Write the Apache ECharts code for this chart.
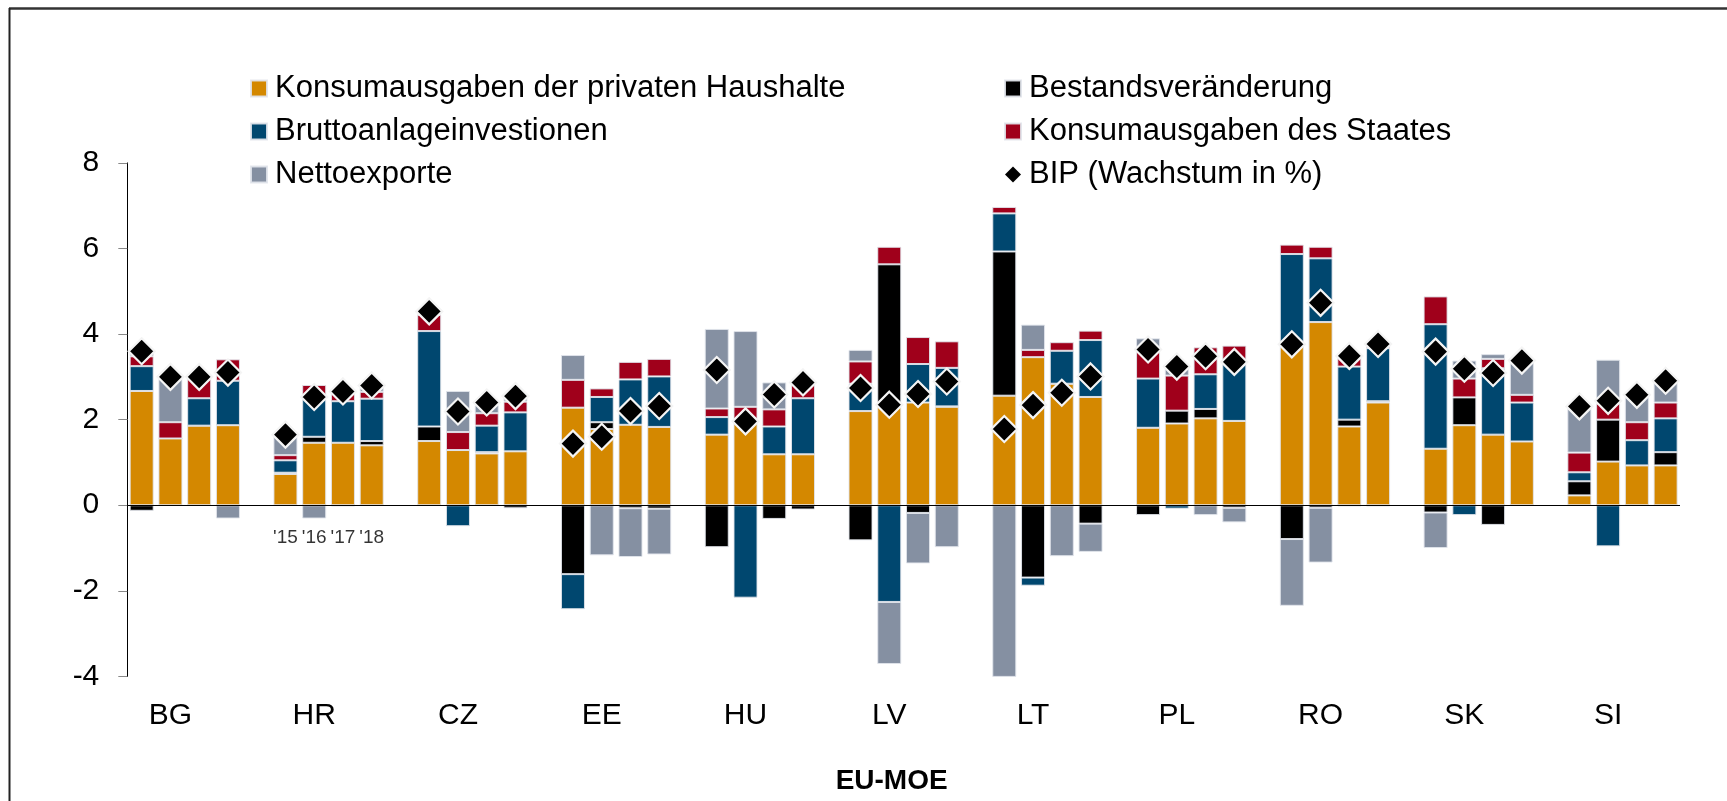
<!DOCTYPE html>
<html lang="de">
<head>
    <meta charset="UTF-8">
    <title>EU-MOE BIP-Beiträge</title>
    <style>
        html, body { margin: 0; padding: 0; background: #fff; }
        #main { width: 1727px; height: 801px; }
    </style>
</head>
<body>
<div id="main"></div>
<script src="https://cdn.jsdelivr.net/npm/echarts@6/dist/echarts.min.js"></script>
<script>
// Länder und Jahre
var countries = ['BG', 'HR', 'CZ', 'EE', 'HU', 'LV', 'LT', 'PL', 'RO', 'SK', 'SI'];
var years = ["'15", "'16", "'17", "'18"];

// Wachstumsbeiträge in Prozentpunkten, je Land 2015-2018
var privatKonsum = [
    2.67, 1.56, 1.86, 1.87,   // BG
    0.73, 1.46, 1.46, 1.40,   // HR
    1.50, 1.29, 1.21, 1.26,   // CZ
    2.28, 1.78, 1.88, 1.83,   // EE
    1.65, 1.92, 1.19, 1.19,   // HU
    2.20, 2.30, 2.40, 2.30,   // LV
    2.56, 3.46, 2.84, 2.53,   // LT
    1.81, 1.91, 2.03, 1.97,   // PL
    3.73, 4.28, 1.84, 2.40,   // RO
    1.32, 1.87, 1.65, 1.49,   // SK
    0.23, 1.02, 0.93, 0.93    // SI
];
var bestand = [
    -0.13, 0, 0, 0,
    0.03, 0.14, -0.03, 0.10,
    0.34, 0, 0.03, -0.07,
    -1.61, 0.16, -0.07, -0.08,
    -0.98, 0, -0.32, -0.10,
    -0.82, 3.33, -0.18, 0.01,
    3.37, -1.69, 0, -0.43,
    -0.23, 0.30, 0.22, -0.06,
    -0.79, -0.06, 0.16, 0.03,
    -0.17, 0.65, -0.46, 0,
    0.33, 0.98, 0, 0.31
];
var brutto = [
    0.58, 0, 0.64, 1.04,
    0.29, 0.89, 0.97, 0.99,
    2.23, -0.49, 0.62, 0.91,
    -0.82, 0.59, 1.06, 1.18,
    0.41, -2.16, 0.65, 1.31,
    0.64, -2.26, 0.90, 0.90,
    0.89, -0.19, 0.77, 1.33,
    1.15, -0.08, 0.81, 1.34,
    2.14, 1.49, 1.24, 1.24,
    2.91, -0.23, 1.55, 0.91,
    0.21, -0.96, 0.59, 0.79
];
var staat = [
    0.23, 0.38, 0.46, 0.50,
    0.12, 0.32, 0.17, 0.16,
    0.38, 0.42, 0.29, 0.25,
    0.65, 0.20, 0.41, 0.41,
    0.20, 0.38, 0.40, 0.36,
    0.52, 0.41, 0.63, 0.62,
    0.15, 0.17, 0.20, 0.22,
    0.67, 0.82, 0.63, 0.42,
    0.22, 0.27, 0.22, 0.09,
    0.65, 0.44, 0.22, 0.18,
    0.46, 0.38, 0.42, 0.37
];
var netto = [
    0.09, 1.02, 0, -0.31,
    0.46, -0.31, 0.07, 0.11,
    0.14, 0.96, 0.19, 0.13,
    0.58, -1.17, -1.14, -1.07,
    1.86, 1.77, 0.63, 0.06,
    0.27, -1.45, -1.18, -0.98,
    -4.07, 0.59, -1.19, -0.66,
    0.27, 0.23, -0.23, -0.34,
    -1.56, -1.28, -0.03, -0.03,
    -0.83, 0.42, 0.11, 0.80,
    1.07, 1.02, 0.61, 0.48
];
var bip = [
    3.60, 3.00, 3.00, 3.10,
    1.65, 2.53, 2.66, 2.80,
    4.53, 2.19, 2.40, 2.55,
    1.44, 1.60, 2.20, 2.32,
    3.16, 1.96, 2.59, 2.87,
    2.74, 2.35, 2.60, 2.89,
    1.78, 2.34, 2.63, 3.01,
    3.64, 3.24, 3.48, 3.35,
    3.76, 4.73, 3.49, 3.77,
    3.59, 3.19, 3.09, 3.38,
    2.31, 2.44, 2.58, 2.91
];
// Jahresbeschriftung nur unter HR
var yearLabelCountry = 'HR';

var FONT = '"Liberation Sans", Arial, sans-serif';

// je Land 4 Balken + eine Lücke (außer nach dem letzten Land)
function toSlots(arr) {
    var out = [];
    for (var g = 0; g < countries.length; g++) {
        for (var y = 0; y < years.length; y++) {
            out.push(arr[g * years.length + y]);
        }
        if (g < countries.length - 1) out.push(null);
    }
    return out;
}

var slotNames = [];
var slotLabels = [];
for (var g = 0; g < countries.length; g++) {
    for (var y = 0; y < years.length; y++) {
        slotNames.push(countries[g] + ' ' + years[y]);
        slotLabels.push(y == 1 ? countries[g] : '');
    }
    if (g < countries.length - 1) {
        slotNames.push('gap' + g);
        slotLabels.push('');
    }
}

var yearMarks = [];
var yearIdx = countries.indexOf(yearLabelCountry);
for (var g = 0; g < countries.length; g++) {
    for (var y = 0; y < years.length; y++) {
        yearMarks.push(g == yearIdx ? 0 : null);
    }
    if (g < countries.length - 1) yearMarks.push(null);
}

var barBorder = {borderColor: 'rgba(225,228,235,0.9)', borderWidth: 1};

function barSeries(name, arr, color) {
    return {
        name: name,
        type: 'bar',
        stack: 'bip',
        barWidth: 24,
        itemStyle: Object.assign({color: color}, barBorder),
        emphasis: {disabled: true},
        data: toSlots(arr)
    };
}

var series = [
    barSeries('Konsumausgaben der privaten Haushalte', privatKonsum, '#D48800'),
    barSeries('Bestandsveränderung', bestand, '#000000'),
    barSeries('Bruttoanlageinvestionen', brutto, '#00476F'),
    barSeries('Konsumausgaben des Staates', staat, '#A0001B'),
    barSeries('Nettoexporte', netto, '#8590A2')
];
// Nulllinie
series[0].markLine = {
    silent: true,
    symbol: 'none',
    label: {show: false},
    lineStyle: {color: '#000', width: 1.2, type: 'solid'},
    data: [{yAxis: 0}],
    z: 5
};
series.push({
    name: 'BIP (Wachstum in %)',
    type: 'scatter',
    symbol: 'diamond',
    symbolSize: 26,
    z: 10,
    itemStyle: {color: '#000', borderColor: '#f4f4f4', borderWidth: 2.2, opacity: 1},
    emphasis: {disabled: true},
    data: toSlots(bip)
});
series.push({
    name: 'jahre',
    type: 'scatter',
    symbolSize: 0,
    silent: true,
    label: {
        show: true,
        position: 'bottom',
        distance: 23,
        fontFamily: FONT,
        fontSize: 19,
        color: '#000',
        formatter: function (p) {
            return years[p.dataIndex % 5];
        }
    },
    data: yearMarks
});

var legendText = {fontFamily: FONT, fontSize: 31, color: '#000', padding: [0, 0, 0, 3]};

var option = {
    backgroundColor: '#fff',
    animation: false,
    grid: {left: 127.3, right: 47, top: 162.9, bottom: 124.6, containLabel: false},
    legend: [
        {
            orient: 'vertical',
            left: 250, top: 73,
            padding: 0,
            itemGap: 12,
            itemWidth: 16, itemHeight: 16,
            textStyle: legendText,
            selectedMode: false,
            data: [
                {name: 'Konsumausgaben der privaten Haushalte', icon: 'rect'},
                {name: 'Bruttoanlageinvestionen', icon: 'rect'},
                {name: 'Nettoexporte', icon: 'rect'}
            ]
        },
        {
            orient: 'vertical',
            left: 1004, top: 73,
            padding: 0,
            itemGap: 12,
            itemWidth: 16, itemHeight: 16,
            textStyle: legendText,
            selectedMode: false,
            data: [
                {name: 'Bestandsveränderung', icon: 'rect'},
                {name: 'Konsumausgaben des Staates', icon: 'rect'},
                {name: 'BIP (Wachstum in %)', icon: 'diamond', itemStyle: {borderWidth: 0, opacity: 1}}
            ]
        }
    ],
    xAxis: {
        type: 'category',
        data: slotNames,
        position: 'bottom',
        axisLine: {show: false, onZero: false},
        axisTick: {show: false},
        axisLabel: {
            interval: 0,
            margin: 24,
            fontFamily: FONT,
            fontSize: 30,
            color: '#000',
            formatter: function (v, i) { return slotLabels[i]; }
        },
        name: 'EU-MOE',
        nameLocation: 'middle',
        nameGap: 91,
        nameTextStyle: {fontFamily: FONT, fontSize: 28, fontWeight: 'bold', color: '#000', padding: [0, 24, 0, 0]}
    },
    yAxis: {
        type: 'value',
        min: -4, max: 8, interval: 2,
        axisLine: {show: true, lineStyle: {color: '#000', width: 1}},
        axisTick: {show: true, length: 9, lineStyle: {color: '#888'}},
        splitLine: {show: false},
        axisLabel: {fontFamily: FONT, fontSize: 30, color: '#000', margin: 28}
    },
    graphic: [
        {type: 'line', shape: {x1: 9, y1: 8.5, x2: 1727, y2: 8.5}, style: {stroke: '#333', lineWidth: 2.5}, silent: true},
        {type: 'line', shape: {x1: 9.5, y1: 8, x2: 9.5, y2: 801}, style: {stroke: '#222', lineWidth: 2}, silent: true}
    ],
    series: series
};

var myChart = echarts.init(document.getElementById('main'));
myChart.setOption(option);
</script>
</body>
</html>
